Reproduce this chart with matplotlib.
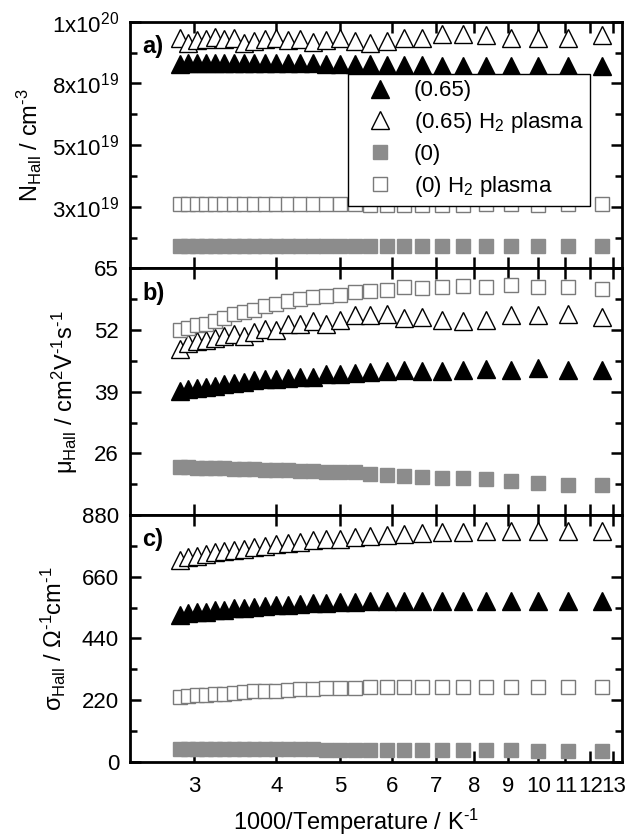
import matplotlib
import numpy as np
from matplotlib import pyplot as plt
from matplotlib.ticker import MultipleLocator, NullLocator

matplotlib.use("Agg")

plt.rcParams["font.family"] = ["Liberation Sans", "DejaVu Sans"]
plt.rcParams["mathtext.fontset"] = "custom"
plt.rcParams["mathtext.rm"] = "Liberation Sans"
plt.rcParams["mathtext.it"] = "Liberation Sans:italic"
plt.rcParams["mathtext.bf"] = "Liberation Sans:bold"
plt.rcParams["mathtext.default"] = "rm"

# measurement temperatures (K), x axis is 1000/T
temps = [350, 340, 330, 320, 310, 300, 290, 280, 270, 260, 250, 240, 230, 220,
         210, 200, 190, 180, 170, 160, 150, 140, 130, 120, 110, 100, 90, 80]

# a) carrier density, units of 1e19 cm^-3
n_065 = [8.30, 8.33, 8.33, 8.35, 8.33, 8.33, 8.35, 8.32, 8.33, 8.35, 8.33, 8.33, 8.32, 8.33,
         8.30, 8.30, 8.28, 8.28, 8.26, 8.25, 8.24, 8.22, 8.22, 8.22, 8.22, 8.20, 8.22, 8.20]
n_065_h2 = [9.36, 9.15, 9.28, 9.32, 9.40, 9.30, 9.33, 9.15, 9.22, 9.30, 9.36, 9.25, 9.30, 9.20,
            9.25, 9.34, 9.22, 9.14, 9.24, 9.36, 9.34, 9.52, 9.52, 9.48, 9.36, 9.36, 9.36, 9.46]
n_0 = [0.93, 0.93, 0.93, 0.92, 0.92, 0.92, 0.92, 0.92, 0.92, 0.92, 0.92, 0.92, 0.92, 0.92,
       0.91, 0.91, 0.91, 0.91, 0.91, 0.91, 0.91, 0.91, 0.91, 0.91, 0.91, 0.91, 0.91, 0.91]
n_0_h2 = [2.60, 2.60, 2.61, 2.60, 2.60, 2.60, 2.61, 2.60, 2.60, 2.60, 2.60, 2.60, 2.60, 2.60,
          2.60, 2.60, 2.60, 2.59, 2.59, 2.59, 2.59, 2.59, 2.59, 2.60, 2.60, 2.59, 2.60, 2.61]

# b) mobility, cm^2/Vs
mu_065 = [39.1, 39.6, 39.8, 40.1, 40.3, 40.7, 40.9, 41.1, 41.4, 41.8, 41.8, 42.0, 42.1, 42.2,
          42.7, 42.8, 43.0, 43.2, 43.4, 43.6, 43.4, 43.4, 43.7, 43.9, 43.7, 44.1, 43.6, 43.7]
mu_065_h2 = [48.0, 49.3, 49.8, 49.9, 50.3, 50.8, 51.1, 50.7, 51.6, 52.3, 52.1, 53.3, 53.4, 54.0,
             53.4, 54.2, 55.2, 55.2, 55.5, 54.5, 54.8, 54.2, 54.0, 54.2, 55.2, 55.2, 55.3, 54.8]
mu_0 = [23.2, 23.1, 23.0, 23.0, 22.9, 22.9, 22.8, 22.7, 22.7, 22.6, 22.5, 22.5, 22.4, 22.3,
        22.2, 22.1, 22.0, 21.7, 21.5, 21.3, 21.0, 20.9, 20.8, 20.6, 20.2, 19.8, 19.4, 19.3]
mu_0_h2 = [52.0, 52.4, 53.0, 53.4, 54.0, 54.6, 55.3, 55.8, 56.3, 57.0, 57.6, 58.1, 58.6, 59.0,
           59.3, 59.5, 60.0, 60.3, 60.5, 61.0, 60.8, 61.2, 61.3, 61.0, 61.5, 61.0, 61.0, 60.7]

# c) conductivity, 1/(Ohm cm)
sig_065 = [524, 530, 534, 536, 541, 543, 547, 549, 552, 555, 558, 558, 564, 565,
           566, 570, 571, 572, 572, 573, 574, 575, 575, 575, 575, 575, 575, 575]
sig_065_h2 = [720, 729, 735, 741, 747, 753, 755, 761, 767, 771, 776, 782, 785, 790,
              794, 796, 802, 806, 810, 814, 818, 820, 821, 823, 823, 824, 824, 824]
sig_0 = [46, 46, 46, 46, 45, 45, 45, 45, 45, 44, 44, 44, 44, 44,
         43, 43, 43, 43, 42, 42, 42, 42, 41, 41, 41, 40, 40, 40]
sig_0_h2 = [231, 234, 237, 239, 241, 243, 246, 249, 251, 253, 254, 257, 258, 260,
            263, 264, 265, 266, 267, 267, 268, 268, 268, 268, 268, 268, 268, 268]

labels = ["(0.65)", "(0.65) H$_2$ plasma", "(0)", "(0) H$_2$ plasma"]
xticks = [3, 4, 5, 6, 7, 8, 9, 10, 11, 12, 13]

x = 1000.0 / np.array(temps)
grey = "#8c8c8c"
styles = [
    dict(marker="^", ms=13, mfc="k", mec="k", mew=1.0),
    dict(marker="^", ms=13, mfc="white", mec="k", mew=1.0),
    dict(marker="s", ms=10, mfc=grey, mec=grey, mew=1.0),
    dict(marker="s", ms=10, mfc="white", mec="#7a7a7a", mew=1.0),
]

fig, axes = plt.subplots(3, 1, figsize=(6.32, 8.39), dpi=100, sharex=True)
fig.subplots_adjust(left=0.206, right=0.984, top=0.974, bottom=0.092, hspace=0)

panels = [
    (np.array([n_065, n_065_h2, n_0, n_0_h2]) * 1e19, "a)"),
    (np.array([mu_065, mu_065_h2, mu_0, mu_0_h2]), "b)"),
    (np.array([sig_065, sig_065_h2, sig_0, sig_0_h2]), "c)"),
]

for ax, (series, tag) in zip(axes, panels):
    for ys, st, lab in zip(series, styles, labels):
        ax.plot(x, ys, ls="none", label=lab, zorder=3, **st)
    ax.text(0.025, 0.9, tag, transform=ax.transAxes, fontsize=17,
            fontweight="bold", ha="left", va="center")
    for s in ax.spines.values():
        s.set_linewidth(2.0)
    ax.tick_params(which="both", direction="in", top=True, right=True,
                   width=1.8, labelsize=16)
    ax.tick_params(which="major", length=8)
    ax.tick_params(which="minor", length=5)
    ax.tick_params(axis="y", pad=8)
    ax.tick_params(axis="x", pad=10)

ax = axes[0]
ax.set_xscale("log")
ax.set_xlim(2.4, 13.4)
ax.xaxis.set_minor_locator(NullLocator())
axes[2].set_xticks(xticks, labels=[str(t) for t in xticks])
axes[2].xaxis.set_minor_locator(NullLocator())

ax.set_ylim(0, 1e20)
ax.set_yticks([0, 2.5e19, 5e19, 7.5e19, 1e20],
              labels=["", "3x10$^{19}$", "5x10$^{19}$", "8x10$^{19}$", "1x10$^{20}$"])
ax.yaxis.set_minor_locator(MultipleLocator(1.25e19))
ax.set_ylabel(r"N$_{Hall}$ / cm$^{\text{-}3}$", fontsize=17, labelpad=6)
leg = ax.legend(loc="upper left", bbox_to_anchor=(0.443, 0.79), fontsize=16,
                frameon=True, fancybox=False, framealpha=1, edgecolor="k",
                handlelength=2.3, handletextpad=0.35, labelspacing=0.4,
                borderpad=0.3, borderaxespad=0)
leg.get_frame().set_linewidth(1.0)

ax = axes[1]
ax.set_ylim(13, 65)
ax.set_yticks([13, 26, 39, 52, 65], labels=["", "26", "39", "52", "65"])
ax.yaxis.set_minor_locator(MultipleLocator(6.5))
ax.set_ylabel(r"μ$_{Hall}$ / cm$^2$V$^{\text{-}1}$s$^{\text{-}1}$", fontsize=17, labelpad=10)

ax = axes[2]
ax.set_ylim(0, 880)
ax.set_yticks([0, 220, 440, 660, 880])
ax.yaxis.set_minor_locator(MultipleLocator(110))
ax.set_ylabel(r"σ$_{Hall}$ / Ω$^{\text{-}1}$cm$^{\text{-}1}$", fontsize=17, labelpad=10)
ax.set_xlabel(r"1000/Temperature / K$^{\text{-}1}$", fontsize=17, x=0.46, labelpad=7)

plt.savefig("out.png", dpi=100)
